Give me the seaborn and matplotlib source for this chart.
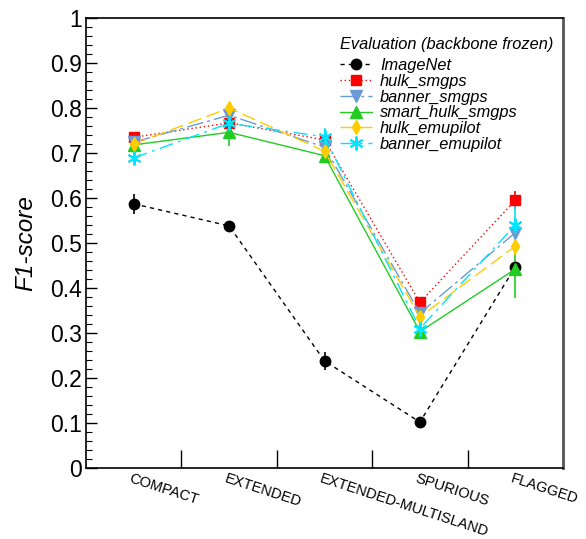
import numpy as np
import pandas as pd
import matplotlib
matplotlib.use("Agg")
import matplotlib.pyplot as plt
import seaborn as sns
from matplotlib.ticker import MultipleLocator, FixedLocator

sns.set_style("white")
plt.rcParams['font.family'] = ['Liberation Sans', 'DejaVu Sans']
plt.rcParams['text.color'] = 'black'
plt.rcParams['xtick.color'] = 'black'
plt.rcParams['ytick.color'] = 'black'
plt.rcParams['axes.labelcolor'] = 'black'

categories = ["COMPACT", "EXTENDED", "EXTENDED-MULTISLAND", "SPURIOUS", "FLAGGED"]

imagenet = [0.587, 0.538, 0.238, 0.102, 0.447]
hulk_smgps = [0.735, 0.767, 0.729, 0.368, 0.595]
banner_smgps = [0.724, 0.784, 0.713, 0.344, 0.523]
smart_hulk_smgps = [0.718, 0.746, 0.694, 0.303, 0.442]
hulk_emupilot = [0.720, 0.800, 0.704, 0.336, 0.493]
banner_emupilot = [0.689, 0.766, 0.736, 0.310, 0.540]

err_imagenet = [0.022, 0.004, 0.020, 0.004, 0.010]
err_hulk_smgps = [0.008, 0.010, 0.010, 0.008, 0.020]
err_banner_smgps = [0.010, 0.012, 0.010, 0.010, 0.020]
err_smart_hulk_smgps = [0.008, 0.030, 0.010, 0.010, 0.064]
err_hulk_emupilot = [0.008, 0.010, 0.010, 0.010, 0.020]
err_banner_emupilot = [0.010, 0.010, 0.020, 0.010, 0.060]

series = [
    ("ImageNet", imagenet, err_imagenet, "black", (0, (3, 3)), "o", 7.5, 1.0),
    ("hulk_smgps", hulk_smgps, err_hulk_smgps, "#ff0000", (0, (1, 2)), "s", 7.5, 1.0),
    ("banner_smgps", banner_smgps, err_banner_smgps, "#6a9bd6", (0, (12, 3, 2, 3)), "v", 8.5, 1.0),
    ("smart_hulk_smgps", smart_hulk_smgps, err_smart_hulk_smgps, "#22cc22", "-", "^", 8.5, 1.0),
    ("hulk_emupilot", hulk_emupilot, err_hulk_emupilot, "#ffcc00", (0, (10, 4)), "d", 7, 1.0),
    ("banner_emupilot", banner_emupilot, err_banner_emupilot, "#00e5ff", (0, (10, 4, 2, 4)), (6, 2, 0), 10, 1.4),
]

fig = plt.figure(figsize=(5.86, 5.39), dpi=100)
ax = fig.add_axes([86/586, 1-468/539, (563-86)/586, (468-18)/539])

xpos = np.arange(len(categories))
for name, vals, errs, color, ls, mk, ms, mew in series:
    df = pd.DataFrame({"x": xpos, "y": vals})
    ax.errorbar(xpos, vals, yerr=errs, fmt="none", ecolor=color, elinewidth=1.2, capsize=0, zorder=2)
    sns.lineplot(data=df, x="x", y="y", ax=ax, color=color, linestyle=ls, linewidth=1.0,
                 marker=mk, markersize=ms, markeredgecolor=color, markerfacecolor=color,
                 markeredgewidth=mew, label=name, zorder=3)

ax.set_xlim(-0.5, len(categories) - 0.5)
ax.set_ylim(0, 1)

ax.yaxis.set_minor_locator(MultipleLocator(0.02))
ax.set_yticks(np.arange(0, 1.01, 0.1))
ax.set_yticklabels(["0"] + [f"{v:.1f}" for v in np.arange(0.1, 0.95, 0.1)] + ["1"])
ax.tick_params(axis="y", which="major", direction="in", length=8, width=1, labelsize=16.5,
               left=True, right=False, pad=3)
ax.tick_params(axis="y", which="minor", direction="in", length=4, width=0.8, left=True, right=False)

ax.xaxis.set_major_locator(FixedLocator(np.arange(0.5, len(categories) - 1, 1.0)))
ax.tick_params(axis="x", which="major", direction="in", length=13, width=1, labelbottom=False, bottom=True)
for i, c in enumerate(categories):
    ax.text(i - 0.02, -0.007, c, rotation=-18, rotation_mode="anchor", ha="left", va="top",
            fontsize=10.5, transform=ax.get_xaxis_transform())

ax.set_xlabel("")
ax.set_ylabel("F1-score", fontsize=17.5, style="italic")
ax.yaxis.set_label_coords(-0.103, 0.5)

for s in ax.spines.values():
    s.set_color("black")
    s.set_linewidth(1.2)
ax.spines["right"].set_color("#555555")
ax.spines["right"].set_linewidth(2)

leg = ax.legend(title="Evaluation (backbone frozen)", loc="upper left", bbox_to_anchor=(0.532, 0.957),
                frameon=False, fontsize=11.8, title_fontsize=11.8, handlelength=1.95,
                labelspacing=0.05, handletextpad=0.5, borderaxespad=0, borderpad=0)
leg._legend_box.align = "left"
leg._legend_box.sep = 4
for t in leg.get_texts():
    t.set_style("italic")
leg.get_title().set_style("italic")

fig.savefig("out.png", dpi=100)
